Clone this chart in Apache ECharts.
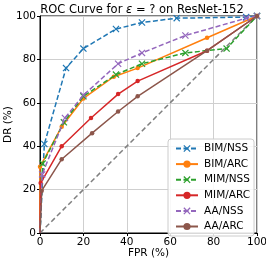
<!DOCTYPE html>
<html><head><meta charset="utf-8">
<script src="https://cdn.jsdelivr.net/npm/echarts@6/dist/echarts.min.js"></script>
<style>html,body{margin:0;padding:0;background:#fff}#c{width:266px;height:263px}</style>
</head><body><div id="c"></div>
<script>
const names = ['BIM/NSS','BIM/ARC','MIM/NSS','MIM/ARC','AA/NSS','AA/ARC'];
const colors = ['#1f77b4','#ff7f0e','#2ca02c','#d62728','#9467bd','#8c564b'];
const bimNssX = [0, 2, 12, 20, 35, 47, 63, 95, 100];
const bimNssY = [0, 41, 76, 85, 94, 97, 99, 99.5, 100];
const bimArcX = [0, 0, 10, 20, 34, 45, 77, 100];
const bimArcY = [0, 30.5, 49, 62, 72, 76, 90, 100];
const mimNssX = [0, 1.2, 11, 20, 35, 47, 67, 86, 100];
const mimNssY = [0, 32, 51, 63, 73, 78, 83, 85, 100];
const mimArcX = [0, 0.3, 10, 23.5, 36, 45, 77, 100];
const mimArcY = [0, 23, 40, 53, 64, 70, 84, 100];
const aaNssX = [0, 1, 11.5, 20, 36, 47, 67, 95, 100];
const aaNssY = [0, 27, 53, 63.5, 78, 83, 91, 99, 100];
const aaArcX = [0, 0.8, 10, 24, 36, 45, 77, 100];
const aaArcY = [0, 19.5, 34, 46, 56, 63, 84, 100];
const diagX = [0, 100];
const diagY = [0, 100];

const xs = [bimNssX, bimArcX, mimNssX, mimArcX, aaNssX, aaArcX];
const ys = [bimNssY, bimArcY, mimNssY, mimArcY, aaNssY, aaArcY];
const dashed = [true, false, true, false, true, false];
const cross = 'path://M0,1.2L1.2,0L5,3.8L8.8,0L10,1.2L6.2,5L10,8.8L8.8,10L5,6.2L1.2,10L0,8.8L3.8,5Z';
const font = 'DejaVu Sans';

const series = [{
  type: 'line', name: 'diag', data: diagX.map((x, i) => [x, diagY[i]]),
  symbol: 'none', lineStyle: {color: '#7f7f7f', width: 1.5, type: [5, 3]}, silent: true, z: 1
}];
names.forEach((n, k) => {
  series.push({
    type: 'line', name: n,
    data: xs[k].map((x, i) => ({value: [x, ys[k][i]], symbolSize: (i === 0 ? 0 : (dashed[k] ? 7 : 4.5))})),
    symbol: dashed[k] ? cross : 'circle',
    symbolSize: dashed[k] ? 7 : 4.5,
    showSymbol: true,
    color: colors[k],
    itemStyle: {color: colors[k]},
    lineStyle: {color: colors[k], width: 1.5, type: dashed[k] ? [5, 2.5] : 'solid'},
    z: 2 + k, animation: false
  });
});

const chart = echarts.init(document.getElementById('c'), null, {renderer: 'canvas'});
chart.setOption({
  animation: false,
  backgroundColor: '#fff',
  title: {
    text: '{a|ROC Curve for }{b|ε}{a| = ? on ResNet-152}',
    left: 142, top: 4, textAlign: 'center', padding: 0,
    textStyle: {fontWeight: 'normal', fontFamily: font, fontSize: 11.5, rich: {
      a: {fontFamily: font, fontSize: 11.5, color: '#000', fontWeight: 'normal'},
      b: {fontFamily: font, fontSize: 11.5, color: '#000', fontStyle: 'italic', fontWeight: 'normal'}
    }}
  },
  grid: {left: 40, right: 9, top: 16, bottom: 30, containLabel: false, outerBoundsMode: 'none',
    show: true, borderColor: '#000', borderWidth: 1, backgroundColor: 'transparent'},
  legend: {
    data: names, orient: 'vertical', left: 168, top: 139,
    itemWidth: 22, itemHeight: 9, itemGap: 4.6,
    padding: [4, 4, 4, 7],
    backgroundColor: 'rgba(255,255,255,0.85)', borderColor: '#ccc', borderWidth: 1, borderRadius: 3,
    textStyle: {fontFamily: font, fontSize: 10.5, color: '#000', padding: [0, 0, 0, 1]}
  },
  xAxis: {
    type: 'value', min: 0, max: 100, interval: 20,
    name: 'FPR (%)', nameLocation: 'middle', nameGap: 15, nameMoveOverlap: false,
    nameTextStyle: {fontFamily: font, fontSize: 10.5, color: '#000'},
    axisLine: {show: true, lineStyle: {color: '#000', width: 1}},
    axisTick: {show: true, length: 3, lineStyle: {color: '#000'}},
    axisLabel: {fontFamily: font, fontSize: 10.5, color: '#000', margin: 4},
    splitLine: {show: true, lineStyle: {color: '#cfcfcf', width: 1}}
  },
  yAxis: {
    type: 'value', min: 0, max: 100, interval: 20,
    name: 'DR (%)', nameLocation: 'middle', nameGap: 26, nameMoveOverlap: false,
    nameTextStyle: {fontFamily: font, fontSize: 10.5, color: '#000'},
    axisLine: {show: true, lineStyle: {color: '#000', width: 1}},
    axisTick: {show: true, length: 3, lineStyle: {color: '#000'}},
    axisLabel: {fontFamily: font, fontSize: 10.5, color: '#000', margin: 4},
    splitLine: {show: true, lineStyle: {color: '#cfcfcf', width: 1}}
  },
  series: series
});
</script></body></html>
